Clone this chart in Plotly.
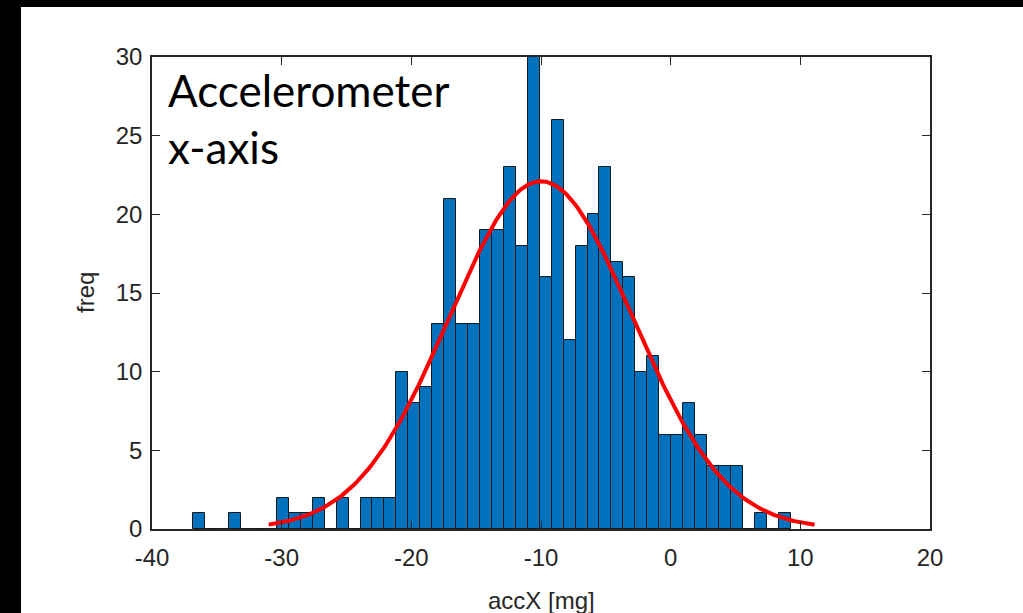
import numpy as np
import plotly.graph_objects as go

# ---- data ----
bin_start = -36.82          # left edge of the first bin [mg]
bin_width = 0.9215          # bin width [mg]
counts = [1, 0, 0, 1, 0, 0, 0, 2, 1, 1,
          2, 0, 2, 0, 2, 2, 2, 10, 8, 9,
          13, 21, 13, 13, 19, 19, 23, 18, 30, 16,
          26, 12, 18, 20, 23, 17, 16, 10, 11, 6,
          6, 8, 6, 4, 4, 4, 0, 1, 0, 1]

fit_mu = -10.0
fit_sigma = 7.1
fit_peak = 22.1
fit_x_range = [-31.0, 11.1]

x_ticks = [-40, -30, -20, -10, 0, 10, 20]
x_tick_labels = ["-40", "-30", "-20", "-10", "0", "10", "20"]
y_ticks = [0, 5, 10, 15, 20, 25, 30]
y_tick_labels = ["0", "5", "10", "15", "20", "25", "30"]

# ---- derived ----
centers = [bin_start + (i + 0.5) * bin_width for i in range(len(counts))]
fx = np.linspace(fit_x_range[0], fit_x_range[1], 300)
fy = fit_peak * np.exp(-((fx - fit_mu) ** 2) / (2 * fit_sigma ** 2))

FONT = "Liberation Sans, Arial, sans-serif"

fig = go.Figure()
fig.add_trace(go.Bar(
    x=centers, y=counts, width=bin_width,
    marker=dict(color="#0072BD", line=dict(color="#1a1a1a", width=1)),
    showlegend=False, hoverinfo="x+y",
))
fig.add_trace(go.Scatter(
    x=fx, y=fy, mode="lines",
    line=dict(color="#FF0000", width=4),
    showlegend=False,
))

axis_common = dict(
    showline=True, linecolor="#262626", linewidth=1.5, mirror="ticks",
    ticks="inside", ticklen=8, tickwidth=1.2, tickcolor="#262626",
    showgrid=False, zeroline=False, automargin=False,
    tickfont=dict(family=FONT, size=24, color="#262626"),
)

fig.update_xaxes(range=[-40, 20], tickvals=x_ticks, ticktext=x_tick_labels,
                 ticklabelstandoff=6, **axis_common)
fig.update_yaxes(range=[0, 30], tickvals=y_ticks, ticktext=y_tick_labels,
                 ticklabelstandoff=3, **axis_common)

# axis titles
fig.add_annotation(xref="paper", yref="paper", x=0.5, y=-0.152,
                   xanchor="center", yanchor="middle", showarrow=False,
                   text="accX [mg]", font=dict(family=FONT, size=24, color="#262626"))
fig.add_annotation(xref="paper", yref="paper", x=-0.0861, y=0.5,
                   xanchor="center", yanchor="middle", showarrow=False, textangle=-90,
                   text="freq", font=dict(family=FONT, size=24, color="#262626"))

# black strips along left and top edges of the picture
fig.add_shape(type="rect", xref="paper", yref="paper", x0=-0.3, x1=-0.1684, y0=-0.3, y1=1.2,
              fillcolor="black", line=dict(width=0), layer="above")
fig.add_shape(type="rect", xref="paper", yref="paper", x0=-0.3, x1=1.2, y0=1.1059, y1=1.2,
              fillcolor="black", line=dict(width=0), layer="above")

fig.add_annotation(
    xref="paper", yref="paper", x=0.0185, y=0.99, xanchor="left", yanchor="top",
    text="Accelerometer<br>x-axis", showarrow=False, align="left",
    font=dict(family="Lato, Open Sans, sans-serif", size=44, color="black"),
)

fig.update_layout(
    width=1023, height=613,
    margin=dict(l=152, r=93, t=57, b=84),
    plot_bgcolor="white", paper_bgcolor="white",
    bargap=0,
)

fig.write_html("out.html", config={"displayModeBar": False},
               post_script="document.body.style.margin='0px';")
